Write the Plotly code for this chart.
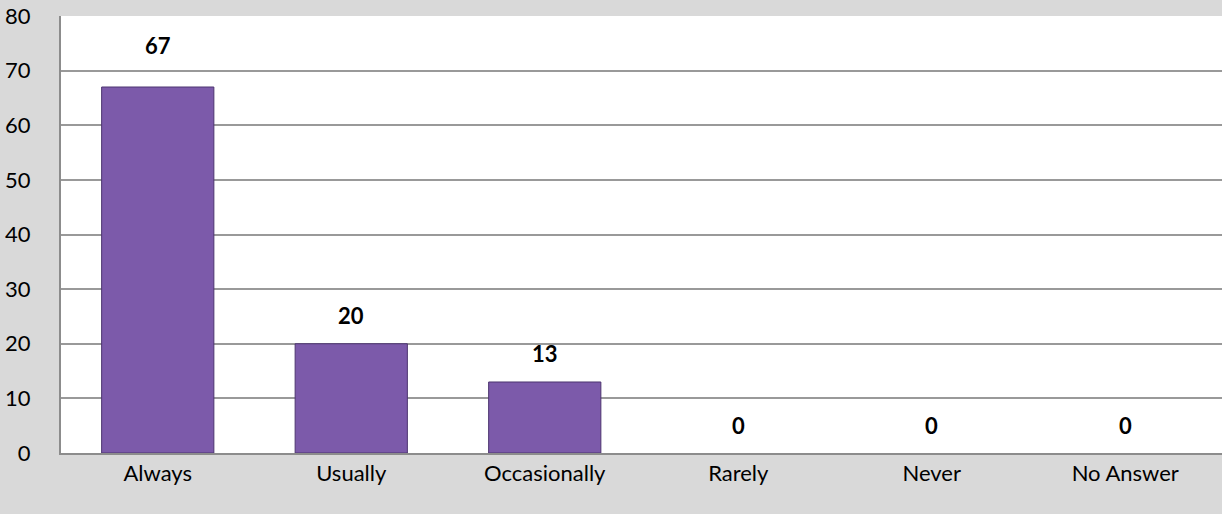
import plotly.graph_objects as go

categories = ["Always", "Usually", "Occasionally", "Rarely", "Never", "No Answer"]
values = [67, 20, 13, 0, 0, 0]
y_ticks = [0, 10, 20, 30, 40, 50, 60, 70, 80]

# label vertical offsets in pixels (style only)
label_shift = {"Always": 42}

FONT = "Lato, Open Sans, sans-serif"
SIZE = 22

fig = go.Figure()
fig.add_trace(go.Bar(
    x=categories, y=values,
    marker=dict(color="#7c5aaa",
                line=dict(color="#4d3570", width=[1 if v > 0 else 0 for v in values])),
    width=0.58,
    hoverinfo="x+y",
))

for c, v in zip(categories, values):
    fig.add_annotation(
        x=c, y=v, text=f"<b>{v}</b>", showarrow=False,
        yshift=label_shift.get(c, 28), yanchor="middle",
        font=dict(family=FONT, size=SIZE, color="black"),
    )

fig.update_layout(
    width=1222, height=514,
    margin=dict(l=61, r=0, t=16, b=61),
    paper_bgcolor="#d9d9d9",
    plot_bgcolor="white",
    showlegend=False,
    bargap=0.42,
    font=dict(family=FONT, size=SIZE, color="black"),
    xaxis=dict(
        showgrid=False, showline=True, linecolor="#8c8c8c", linewidth=2,
        ticks="", ticklabelstandoff=0, tickfont=dict(size=SIZE),
    ),
    yaxis=dict(
        range=[0, 80], tickvals=y_ticks, showgrid=True, gridcolor="#999999",
        gridwidth=1.5, showline=True, linecolor="#8c8c8c", linewidth=2,
        ticks="", ticklabelstandoff=24, zeroline=False, tickfont=dict(size=SIZE),
    ),
)

fig.write_html("out.html")
